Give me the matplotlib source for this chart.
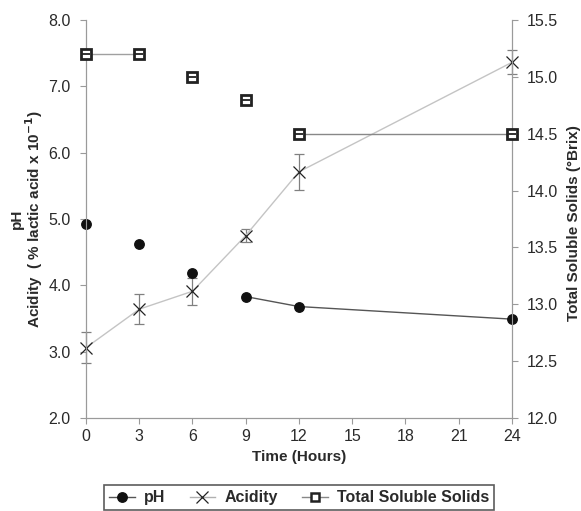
import numpy as np
from matplotlib import pyplot as plt

plt.rcParams['font.family'] = ['Liberation Sans', 'DejaVu Sans']

hours = [0, 3, 6, 9, 12, 24]
ph = [4.92, 4.62, 4.19, 3.83, 3.68, 3.49]
acidity = [3.06, 3.64, 3.91, 4.75, 5.71, 7.36]
acidity_err = [0.23, 0.23, 0.2, 0.1, 0.27, 0.18]
tss = [15.2, 15.2, 15.0, 14.8, 14.5, 14.5]
# only some neighbouring points are joined in the original
ph_line = [np.nan, np.nan, np.nan, 3.83, 3.68, 3.49]
tss_line_a = [15.2, 15.2, np.nan, np.nan, np.nan, np.nan]
tss_line_b = [np.nan, np.nan, np.nan, np.nan, 14.5, 14.5]
xticks = [0, 3, 6, 9, 12, 15, 18, 21, 24]
left_ticks = [2.0, 3.0, 4.0, 5.0, 6.0, 7.0, 8.0]
right_ticks = [12.0, 12.5, 13.0, 13.5, 14.0, 14.5, 15.0, 15.5]

fig = plt.figure(figsize=(5.81, 5.11), dpi=100)
ax = fig.add_axes([0.148, 0.182, 0.733, 0.779])
ax2 = ax.twinx()

spine_col = '#9a9a9a'
text_col = '#2a2a2a'

ax.plot(hours, ph_line, color='#555555', lw=1, zorder=2)
ax.plot(hours, ph, 'o', color='#111111', ms=6.8, zorder=4, clip_on=False)
ax.errorbar(hours, acidity, yerr=acidity_err, color='#c4c4c4', lw=1,
            ecolor='#808080', elinewidth=0.9, capsize=3.5, capthick=0.9,
            marker='x', ms=8.5, mec='#222222', mew=0.9, zorder=3,
            clip_on=False)

ax2.plot(hours, tss_line_a, color='#a0a0a0', lw=1, zorder=2)
ax2.plot(hours, tss_line_b, color='#888888', lw=1, zorder=2)
ax2.plot(hours, tss, 's', mfc='white', mec='#222222', mew=2, ms=6.6,
         zorder=4, clip_on=False)
ax2.plot(hours, tss, '_', color='#222222', mew=1.3, ms=5.5, zorder=5,
         clip_on=False)

ax.set_xlim(0, 24)
ax.set_ylim(2.0, 8.0)
ax2.set_ylim(12.0, 15.5)
ax.set_xticks(xticks)
ax.set_yticks(left_ticks)
ax.set_yticklabels(['%.1f' % v for v in left_ticks])
ax2.set_yticks(right_ticks)
ax2.set_yticklabels(['%.1f' % v for v in right_ticks])

for a in (ax, ax2):
    a.spines['top'].set_visible(False)
    for s in ('left', 'right', 'bottom'):
        a.spines[s].set_color(spine_col)
    a.tick_params(colors=spine_col, labelcolor=text_col, labelsize=11.5,
                  length=4, width=0.8, pad=7)
ax.tick_params(axis='x', pad=4)

ax.set_xlabel('Time (Hours)', fontsize=11, fontweight='bold', labelpad=4,
              color=text_col)
ax.set_ylabel('pH\nAcidity  ( % lactic acid x 10$^{\\mathbf{-1}}$)',
              fontsize=11, fontweight='bold', multialignment='center',
              linespacing=0.95, color=text_col)
ax.yaxis.set_label_coords(-0.096, 0.5)
ax2.set_ylabel('Total Soluble Solids (°Brix)', fontsize=11,
               fontweight='bold', color=text_col)
ax2.yaxis.set_label_coords(1.129, 0.49)

h1 = plt.Line2D([], [], color='#555555', lw=1, marker='o', ms=6.8,
                mfc='#111111', mec='#111111')
h2 = plt.Line2D([], [], color='#b0b0b0', lw=1, marker='x', ms=8,
                mec='#222222', mew=0.9)
h3 = plt.Line2D([], [], color='#888888', lw=1, marker='s', ms=6.3,
                mfc='white', mec='#222222', mew=1.8)
leg = fig.legend([h1, h2, h3], ['pH', 'Acidity', 'Total Soluble Solids'],
                 loc='center', bbox_to_anchor=(0.515, 0.026), ncol=3,
                 frameon=True, fancybox=False, handlelength=1.6,
                 columnspacing=1.5, handletextpad=0.6, borderpad=0.3,
                 prop={'weight': 'bold', 'size': 11.5})
leg.get_frame().set_edgecolor('#333333')
leg.get_frame().set_linewidth(1.2)
for t in leg.get_texts():
    t.set_color(text_col)

plt.savefig('out.png', dpi=100)
